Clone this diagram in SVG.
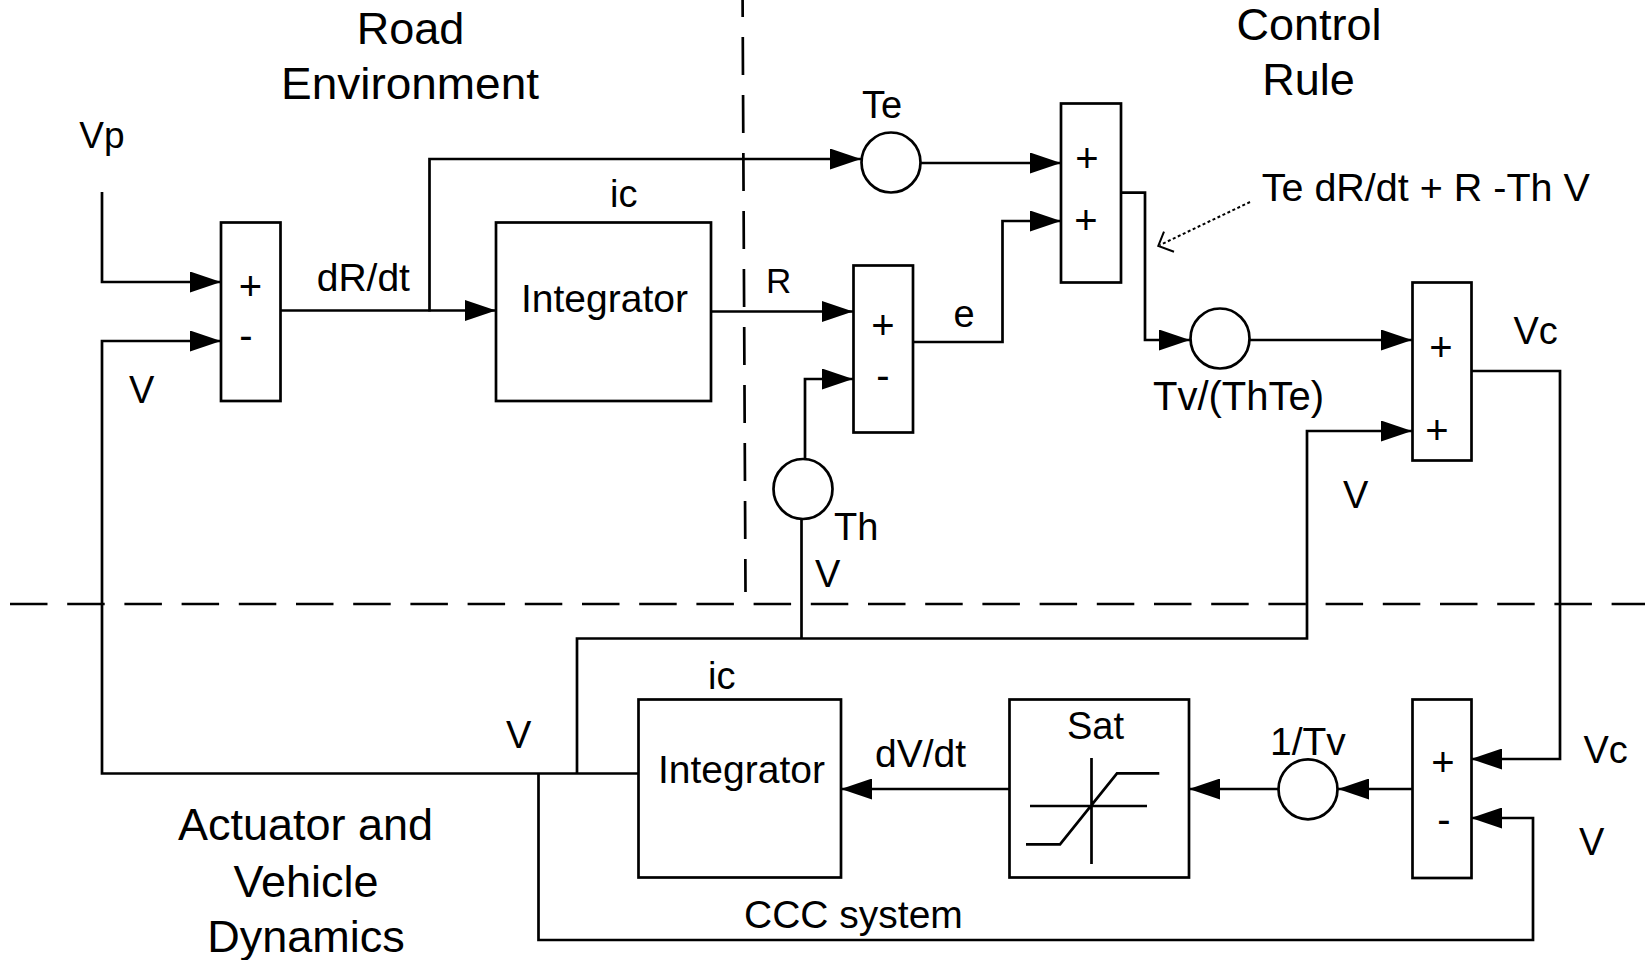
<svg xmlns="http://www.w3.org/2000/svg" width="1645" height="960" viewBox="0 0 1645 960">
<defs>
<marker id="ah" viewBox="0 0 31 21" refX="31" refY="10.5" markerWidth="31" markerHeight="21" markerUnits="userSpaceOnUse" orient="auto">
<path d="M0,0 L31,10.5 L0,21 Z" fill="#000"/>
</marker>
</defs>
<style>
text{font-family:"Liberation Sans",Arial,sans-serif;fill:#000}
.t{font-size:45px}
.l{font-size:39px}
.s{font-size:38px}
.pm{font-size:40px;text-anchor:middle}
.box{fill:#fff;stroke:#000;stroke-width:2.7}
.w{fill:none;stroke:#000;stroke-width:2.7}
.a{fill:none;stroke:#000;stroke-width:2.7;marker-end:url(#ah)}
.d{fill:none;stroke:#000;stroke-width:2.7}
</style>
<rect width="1645" height="960" fill="#fff"/>

<g id="region-borders">
<line class="d" x1="742.5" y1="-21" x2="745.5" y2="592" stroke-dasharray="38 20"/>
<line class="d" x1="10" y1="604" x2="1645" y2="604" stroke-dasharray="37.5 19.7"/>
</g>

<g id="connectors">
<path class="a" d="M102,192 V282 H221"/>
<path class="a" d="M638,773.5 H102 V341 H221"/>
<path class="a" d="M279,310.5 H496"/>
<path class="a" d="M429.5,311.5 V159 H861"/>
<path class="a" d="M711,311.5 H853"/>
<path class="a" d="M921,163 H1061"/>
<path class="a" d="M913,342 H1002.5 V221 H1061"/>
<path class="a" d="M1117,192.7 H1145 V340 H1190"/>
<path class="a" d="M1249.6,340 H1412"/>
<path class="a" d="M1471,371 H1560 V759 H1471"/>
<path class="a" d="M805,459 V379 H853"/>
<path class="w" d="M801.5,519 V638.5"/>
<path class="a" d="M577,773.5 V638.5 H1307 V431 H1412"/>
<path class="a" d="M538.5,773.5 V940 H1533 V818 H1471"/>
<path class="a" d="M1412,789 H1338"/>
<path class="a" d="M1278,789 H1189"/>
<path class="a" d="M1009,789 H841"/>
<path fill="none" stroke="#000" stroke-width="2" stroke-dasharray="3 2.5" d="M1250,202 L1160,245"/>
<path fill="none" stroke="#000" stroke-width="2" d="M1164,231.7 L1158.3,246 L1174,251.7"/>
</g>

<g id="titles">
<text class="t" x="410.5" y="43.5" text-anchor="middle">Road</text>
<text class="t" x="410" y="98.5" text-anchor="middle" textLength="258" lengthAdjust="spacingAndGlyphs">Environment</text>
<text class="t" x="1309" y="40" text-anchor="middle">Control</text>
<text class="t" x="1308.5" y="95" text-anchor="middle">Rule</text>
<text class="t" x="305.5" y="840" text-anchor="middle">Actuator and</text>
<text class="t" x="306" y="896.5" text-anchor="middle">Vehicle</text>
<text class="t" x="306" y="951.5" text-anchor="middle">Dynamics</text>
</g>

<g id="sum1">
<rect class="box" x="221" y="222.5" width="59.5" height="178.5"/>
<text class="pm" x="250.5" y="300">+</text>
<text class="pm" x="246" y="349">-</text>
</g>

<g id="integrator1">
<rect class="box" x="496" y="222.5" width="215" height="178.5"/>
<text class="l" x="521" y="312.3">Integrator</text>
<text class="s" x="610" y="206.7">ic</text>
</g>

<g id="sum2">
<rect class="box" x="853.5" y="265.5" width="59.5" height="167"/>
<text class="pm" x="883" y="339">+</text>
<text class="pm" x="883" y="389">-</text>
</g>

<g id="gain-te">
<ellipse class="box" cx="891" cy="162.5" rx="29.5" ry="30"/>
<text class="s" x="862" y="118.3">Te</text>
</g>

<g id="gain-th">
<ellipse class="box" cx="803" cy="489" rx="29.5" ry="30"/>
<text class="s" x="834" y="540">Th</text>
</g>

<g id="sum3">
<rect class="box" x="1061" y="103.5" width="60" height="179"/>
<text class="pm" x="1087" y="172">+</text>
<text class="pm" x="1086" y="234">+</text>
</g>

<g id="gain-tv-thte">
<ellipse class="box" cx="1220" cy="338.5" rx="29.5" ry="30"/>
<text style="font-size:40px" x="1153" y="409.5">Tv/(ThTe)</text>
</g>

<g id="sum4">
<rect class="box" x="1412.5" y="282.5" width="59" height="178"/>
<text class="pm" x="1441" y="361">+</text>
<text class="pm" x="1437" y="444">+</text>
</g>

<g id="integrator2">
<rect class="box" x="638.5" y="699.5" width="202.5" height="178"/>
<text class="l" x="658" y="782.5">Integrator</text>
<text class="s" x="708" y="689">ic</text>
</g>

<g id="sat">
<rect class="box" x="1009.5" y="699.5" width="179.5" height="178"/>
<text class="s" x="1067" y="738.5">Sat</text>
<path class="w" d="M1091.5,758 V864 M1030,806 H1147 M1026,844.3 H1060 L1117,773.3 H1159.3"/>
</g>

<g id="gain-1tv">
<ellipse class="box" cx="1308" cy="789.3" rx="29.5" ry="30"/>
<text class="l" x="1270" y="755">1/Tv</text>
</g>

<g id="sum5">
<rect class="box" x="1412.5" y="699.5" width="59" height="178.5"/>
<text class="pm" x="1443" y="776">+</text>
<text class="pm" x="1444" y="833">-</text>
</g>

<g id="labels">
<text style="font-size:37px" x="79.3" y="148.3">Vp</text>
<text class="l" x="316.7" y="290.7">dR/dt</text>
<text class="s" x="129" y="403.3">V</text>
<text style="font-size:35px" x="766" y="293.3">R</text>
<text class="s" x="953.5" y="326.5">e</text>
<text class="s" x="815" y="587">V</text>
<text style="font-size:39.5px" x="1261.7" y="201">Te dR/dt + R -Th V</text>
<text class="s" x="1513.5" y="343.5">Vc</text>
<text class="s" x="1343" y="507.5">V</text>
<text class="s" x="506" y="748">V</text>
<text class="l" x="875" y="766.7">dV/dt</text>
<text class="s" x="1583.5" y="763">Vc</text>
<text class="s" x="1579" y="855">V</text>
<text class="l" x="744" y="928">CCC system</text>
</g>
</svg>
